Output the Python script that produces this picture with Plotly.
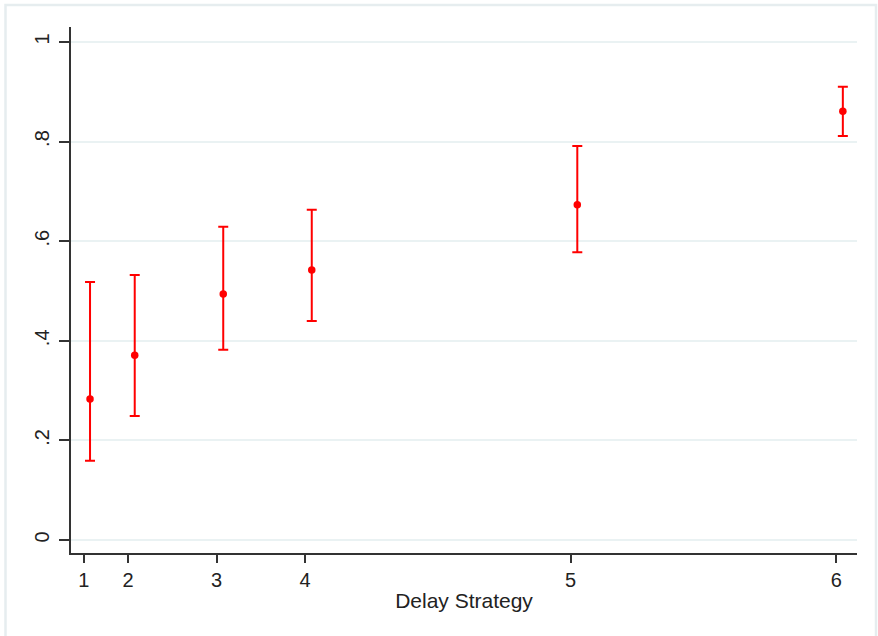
import plotly.graph_objects as go

# Data
tick_positions = [0, 1, 3, 5, 11, 17]
tick_labels = ["1", "2", "3", "4", "5", "6"]
x_values = [0.14, 1.15, 3.15, 5.15, 11.15, 17.15]
estimates = [0.283, 0.371, 0.494, 0.542, 0.673, 0.861]
ci_upper = [0.518, 0.532, 0.629, 0.663, 0.791, 0.910]
ci_lower = [0.159, 0.249, 0.382, 0.440, 0.578, 0.811]
y_tick_vals = [0, 0.2, 0.4, 0.6, 0.8, 1.0]
y_tick_text = ["0", ".2", ".4", ".6", ".8", "1"]

err_plus = [u - e for u, e in zip(ci_upper, estimates)]
err_minus = [e - l for e, l in zip(estimates, ci_lower)]

FONT = "Liberation Sans, Arial, sans-serif"

fig = go.Figure()
fig.add_trace(go.Scatter(
    x=x_values, y=estimates, mode="markers",
    marker=dict(color="#FF0000", size=7.5),
    error_y=dict(type="data", symmetric=False, array=err_plus, arrayminus=err_minus,
                 color="#FF0000", thickness=2, width=5),
    showlegend=False,
))

fig.update_layout(
    width=878, height=636,
    margin=dict(l=71, r=21, t=27, b=83),
    paper_bgcolor="white", plot_bgcolor="white",
    font=dict(family=FONT, size=20, color="#222222"),
    xaxis=dict(
        range=[-0.29, 17.47], tickmode="array", tickvals=tick_positions, ticktext=tick_labels,
        showgrid=False, zeroline=False, showline=True, linecolor="#333333", linewidth=2,
        ticks="outside", ticklen=8, tickwidth=2, tickcolor="#333333",
        title=dict(text="Delay Strategy", font=dict(size=21), standoff=3),
        tickfont=dict(size=20),
    ),
    yaxis=dict(
        range=[-0.026, 1.030], tickmode="array", tickvals=y_tick_vals, ticktext=y_tick_text,
        showgrid=True, gridcolor="#EAF2F3", gridwidth=1.5, zeroline=False,
        showline=True, linecolor="#333333", linewidth=2,
        ticks="outside", ticklen=10, tickwidth=2, tickcolor="#333333",
        tickangle=-90, tickfont=dict(size=20), ticklabelstandoff=2,
    ),
    shapes=[dict(type="rect", xref="paper", yref="paper",
                 x0=(5.5 - 71) / 786, x1=(876 - 71) / 786,
                 y0=(553 - 650) / 526, y1=(553 - 5) / 526,
                 line=dict(color="#E6EDEF", width=2.5), fillcolor="rgba(0,0,0,0)",
                 layer="below")],
)

fig.write_html("out.html", config={"displayModeBar": False},
               post_script="document.body.style.margin='0px';")
